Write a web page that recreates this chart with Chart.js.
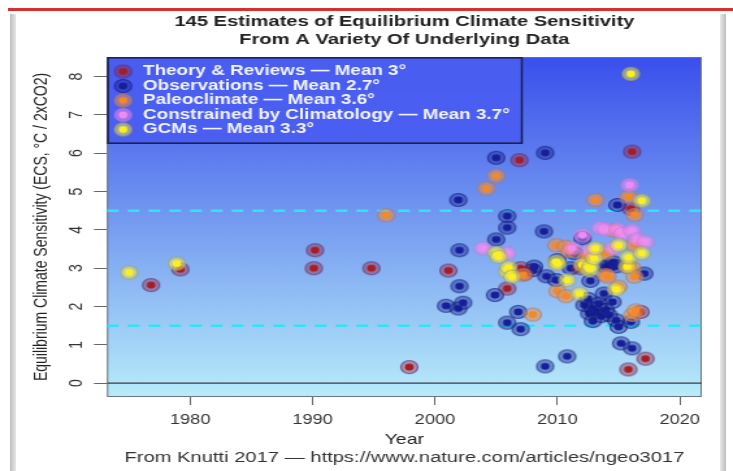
<!DOCTYPE html>
<html>
<head>
<meta charset="utf-8">
<script src="https://cdn.jsdelivr.net/npm/chart.js@4.4.0/dist/chart.umd.min.js"></script>
<style>
html,body{margin:0;padding:0;background:#fff;overflow:hidden;width:733px;height:471px;}
#redline{position:absolute;left:8px;top:8px;width:725px;height:3px;background:#d63030;}
#lbar{position:absolute;left:10px;top:14px;width:6px;height:457px;background:linear-gradient(to right,#bdbdbd,#e8e8e8);}
#rbar{position:absolute;left:720px;top:14px;width:6px;height:457px;background:linear-gradient(to right,#e8e8e8,#bdbdbd);}
#wrap{position:absolute;left:0;top:0;width:564px;height:471px;transform:scaleX(1.2996);transform-origin:0 0;}
</style>
</head>
<body>
<div id="redline"></div>
<div id="lbar"></div>
<div id="rbar"></div>
<div id="wrap"><canvas id="c"></canvas></div>
<script>
// ---------------- DATA ----------------
const seriesNames = [
  'Theory & Reviews — Mean 3°',
  'Observations — Mean 2.7°',
  'Paleoclimate — Mean 3.6°',
  'Constrained by Climatology — Mean 3.7°',
  'GCMs — Mean 3.3°'
];
const theoryYear = [1976.8, 1979.2, 1990.1, 1990.2, 1994.8, 1997.9, 2001.1, 2005.9, 2006.9, 2007.0, 2007.3, 2011.9, 2015.7, 2015.8, 2016.0, 2016.1, 2016.8, 2017.2];
const theoryEcs  = [2.56, 2.97, 3.00, 3.47, 3.00, 0.42, 2.94, 2.47, 5.82, 3.00, 2.85, 3.00, 3.04, 0.36, 4.55, 6.04, 1.86, 0.64];

const obsYear = [2000.9, 2001.9, 2002.3, 2001.9, 2002.0, 2002.0, 2004.9, 2005.0, 2005.0, 2005.9, 2005.9, 2005.9, 2006.8, 2007.0, 2008.0, 2008.1, 2008.9, 2009.0, 2009.0, 2009.1, 2009.9, 2010.0, 2010.8, 2011.1, 2011.4, 2012.05, 2012.2, 2012.5, 2012.6, 2012.7, 2012.9, 2012.9, 2013.1, 2013.4, 2013.6, 2013.8, 2013.95, 2013.95, 2014.2, 2014.2, 2014.5, 2014.6, 2014.8, 2014.8, 2014.9, 2015.0, 2015.2, 2016.0, 2016.1, 2017.1];
const obsEcs  = [2.02, 1.95, 2.10, 4.78, 3.47, 2.53, 2.30, 5.88, 3.75, 4.36, 4.06, 1.58, 1.86, 1.41, 2.95, 3.04, 3.96, 6.01, 0.44, 2.79, 2.69, 3.21, 0.70, 3.00, 3.39, 3.78, 2.04, 2.20, 1.82, 2.67, 1.95, 1.62, 1.85, 2.08, 1.75, 2.34, 1.91, 3.04, 3.08, 1.78, 2.12, 3.15, 3.05, 1.64, 4.65, 1.47, 1.04, 1.60, 0.91, 2.86];

const paleoYear = [1996.0, 2004.2, 2005.0, 2007.2, 2008.0, 2009.9, 2010.0, 2010.7, 2010.7, 2011.0, 2012.3, 2013.1, 2013.95, 2013.95, 2014.1, 2014.6, 2015.0, 2015.8, 2016.1, 2016.1, 2016.3, 2016.3, 2016.3, 2016.4];
const paleoEcs  = [4.38, 5.08, 5.41, 2.82, 1.79, 3.60, 2.40, 3.56, 2.27, 3.45, 3.30, 4.78, 3.39, 2.82, 2.78, 3.98, 2.52, 4.86, 3.01, 1.78, 4.39, 3.60, 2.78, 1.90];

const climYear = [2003.9, 2005.9, 2011.2, 2012.05, 2012.6, 2013.5, 2013.95, 2014.5, 2014.9, 2015.3, 2015.9, 2016.1, 2016.5, 2017.2];
const climEcs  = [3.52, 3.39, 3.52, 3.86, 3.45, 4.05, 4.01, 3.52, 4.01, 3.90, 5.17, 3.98, 3.75, 3.69];

const gcmYear = [1975.0, 1978.9, 2005.0, 2005.2, 2005.9, 2006.0, 2006.3, 2009.9, 2010.0, 2010.8, 2011.8, 2012.05, 2012.6, 2012.7, 2013.0, 2013.1, 2014.8, 2015.0, 2015.7, 2015.8, 2016.0, 2016.9, 2016.9];
const gcmEcs  = [2.89, 3.12, 3.40, 3.30, 2.91, 3.02, 2.78, 3.17, 3.12, 2.69, 2.34, 3.08, 2.95, 3.04, 3.26, 3.52, 2.45, 3.60, 3.04, 3.28, 8.07, 4.76, 3.39];

const likelyRange = [1.5, 4.5];
const zeroLevel = 0;
const xTickYears = [1980, 1990, 2000, 2010, 2020];
const yTickValues = [0, 1, 2, 3, 4, 5, 6, 7, 8];
const xRange = [1973.2, 2021.8];
const yRange = [-0.36, 8.51];

// ---------------- STYLE ----------------
const FONT = '"Liberation Sans", Arial, Helvetica, sans-serif';
function makeMarker(core, halo, ring) {
  const c = document.createElement('canvas');
  c.width = 16; c.height = 16;
  const g = c.getContext('2d');
  g.beginPath(); g.arc(8, 8, 6.5, 0, Math.PI * 2);
  g.fillStyle = halo; g.fill();
  g.lineWidth = 1.2; g.strokeStyle = ring; g.stroke();
  g.beginPath(); g.arc(8, 8, 3.4, 0, Math.PI * 2);
  g.fillStyle = core; g.fill();
  return c;
}
const markers = [
  makeMarker('#a81c22', 'rgba(150,40,75,0.40)', 'rgba(105,40,95,0.70)'),
  makeMarker('#171f98', 'rgba(25,35,150,0.40)', 'rgba(20,28,120,0.70)'),
  makeMarker('#f58a24', 'rgba(235,145,80,0.50)', 'rgba(185,120,95,0.75)'),
  makeMarker('#f08cf0', 'rgba(240,140,240,0.50)', 'rgba(200,120,210,0.65)'),
  makeMarker('#fbf01e', 'rgba(240,236,90,0.50)', 'rgba(165,165,90,0.80)')
];
const drawOrder = [4, 5, 3, 2, 1];

const toPts = (xs, ys) => xs.map((x, i) => ({x: x, y: ys[i]}));
const seriesData = [
  toPts(theoryYear, theoryEcs),
  toPts(obsYear, obsEcs),
  toPts(paleoYear, paleoEcs),
  toPts(climYear, climEcs),
  toPts(gcmYear, gcmEcs)
];

const datasets = seriesData.map((d, i) => ({
  label: seriesNames[i],
  data: d,
  pointStyle: markers[i],
  pointRadius: 6,
  pointHoverRadius: 6,
  order: drawOrder[i]
}));
likelyRange.forEach(v => datasets.push({
  label: 'range' + v,
  data: [{x: xRange[0], y: v}, {x: xRange[1], y: v}],
  showLine: true, pointRadius: 0, borderColor: '#35e2f4', borderWidth: 2.6,
  borderDash: [9, 7], order: 10
}));
datasets.push({
  label: 'zero',
  data: [{x: xRange[0], y: zeroLevel}, {x: xRange[1], y: zeroLevel}],
  showLine: true, pointRadius: 0, borderColor: '#3a3a44', borderWidth: 1.2, order: 11
});

const decor = {
  id: 'decor',
  beforeDraw(chart) {
    const {ctx, chartArea: a} = chart;
    ctx.save();
    const g = ctx.createLinearGradient(0, a.top, 0, a.bottom);
    g.addColorStop(0, 'rgb(58,78,236)');
    g.addColorStop(0.45, 'rgb(112,150,240)');
    g.addColorStop(1, 'rgb(184,236,250)');
    ctx.fillStyle = g;
    ctx.fillRect(a.left, a.top, a.width, a.height);
    ctx.strokeStyle = '#6d7480';
    ctx.lineWidth = 1;
    ctx.strokeRect(a.left + 0.5, a.top + 0.5, a.width - 1, a.height - 1);
    // legend panel
    ctx.fillStyle = 'rgba(74,94,240,0.96)';
    ctx.fillRect(a.left, a.top, 320, 87);
    ctx.strokeStyle = '#1c2250';
    ctx.lineWidth = 1.6;
    ctx.strokeRect(a.left + 0.8, a.top + 0.8, 320 - 1.6, 87 - 1.6);
    ctx.restore();
    const lg = chart.legend;
    if (lg) {
      lg.left = a.left + 4.2; lg.top = a.top + 7.2;
      lg.right = a.right; lg.bottom = a.bottom;
    }
  }
};

new Chart(document.getElementById('c'), {
  type: 'scatter',
  data: {datasets: datasets},
  options: {
    responsive: true,
    maintainAspectRatio: false,
    animation: false,
    devicePixelRatio: 1,
    layout: {padding: {top: 0, left: 0, right: 24, bottom: 0}},
    plugins: {
      tooltip: {enabled: false},
      title: {
        display: true, fullSize: false,
        text: ['145 Estimates of Equilibrium Climate Sensitivity', 'From A Variety Of Underlying Data'],
        color: '#222',
        font: {family: FONT, size: 15.5, weight: 'bold', lineHeight: 18 / 15.5},
        padding: {top: 13, bottom: 8}
      },
      subtitle: {
        display: true, position: 'bottom', fullSize: false,
        text: 'From Knutti 2017 — https://www.nature.com/articles/ngeo3017',
        color: '#333',
        font: {family: FONT, size: 15.5, lineHeight: 18 / 15.5},
        padding: {top: 0, bottom: 4}
      },
      legend: {
        position: 'chartArea', align: 'start',
        labels: {
          usePointStyle: true, pointStyleWidth: 16.3, padding: 0,
          color: '#f2f4ff',
          font: {family: FONT, size: 14.5, weight: 'bold'},
          filter: item => item.datasetIndex < 5,
          sort: (p, q) => p.datasetIndex - q.datasetIndex
        }
      }
    },
    scales: {
      x: {
        type: 'linear', position: 'bottom',
        min: xRange[0], max: xRange[1],
        afterBuildTicks: s => { s.ticks = xTickYears.map(v => ({value: v})); },
        afterFit: s => { s.height = 52; },
        ticks: {color: '#333', padding: 7, font: {family: FONT, size: 14}, callback: v => String(v)},
        grid: {display: true, drawOnChartArea: false, drawTicks: true, tickLength: 8, tickColor: '#666'},
        border: {display: false},
        title: {display: true, text: 'Year', color: '#222', font: {family: FONT, size: 15}, padding: {top: 0, bottom: 0}}
      },
      y: {
        type: 'linear', position: 'left',
        min: yRange[0], max: yRange[1],
        afterBuildTicks: s => { s.ticks = yTickValues.map(v => ({value: v})); },
        afterFit: s => { s.width = 82.3; },
        ticks: {color: '#333', padding: 9, minRotation: 90, maxRotation: 90, crossAlign: 'center',
                font: {family: FONT, size: 14}, callback: v => String(v)},
        grid: {display: true, drawOnChartArea: false, drawTicks: true, tickLength: 10, tickColor: '#666'},
        border: {display: false},
        title: {display: true, text: 'Equilibrium Climate Sensitivity (ECS, °C / 2xCO2)', color: '#222',
                font: {family: FONT, size: 14}, padding: {top: 24, bottom: 0}}
      }
    }
  },
  plugins: [decor]
});
</script>
</body>
</html>
